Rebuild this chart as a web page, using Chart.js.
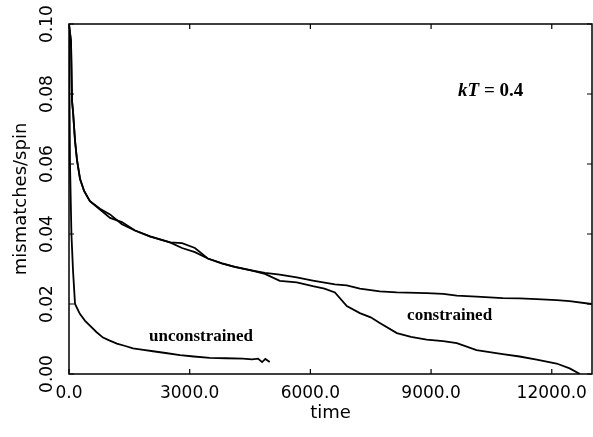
<!DOCTYPE html>
<html>
<head>
<meta charset="utf-8">
<script src="https://cdn.jsdelivr.net/npm/chart.js@4"></script>
<style>
  html, body { margin: 0; padding: 0; background: #fff; }
  #wrap { width: 593px; height: 437px; }
</style>
</head>
<body>
<div id="wrap"><canvas id="mismatchChart"></canvas></div>
<script>
// time axis ticks and mismatch axis ticks
const xTickValues = [0, 3000, 6000, 9000, 12000];
const yTickValues = [0, 0.02, 0.04, 0.06, 0.08, 0.10];

// constrained run that levels off near 0.02
const constrainedATime = [0, 50, 75, 100, 150, 200, 275, 375, 520, 770, 1020, 1315, 1640, 2010, 2510, 2810, 3130, 3450, 3800, 4120, 4500, 4870, 5240, 5660, 6060, 6610, 6905, 7230, 7725, 8150, 8890, 9300, 9640, 10130, 10780, 11200, 11625, 12120, 12445, 12990];
const constrainedAValues = [0.100, 0.095, 0.078, 0.075, 0.0666, 0.061, 0.0557, 0.0523, 0.0494, 0.0472, 0.0456, 0.0428, 0.041, 0.0393, 0.0376, 0.0374, 0.0360, 0.0330, 0.0316, 0.0306, 0.0297, 0.0289, 0.0284, 0.0276, 0.0267, 0.0256, 0.0253, 0.0244, 0.0236, 0.0233, 0.0231, 0.0229, 0.0224, 0.0221, 0.0217, 0.0216, 0.0214, 0.0211, 0.0208, 0.0200];

// constrained run that drops to zero
const constrainedBTime = [0, 50, 75, 100, 150, 200, 275, 375, 520, 770, 1020, 1315, 1640, 2010, 2510, 2810, 3130, 3450, 3800, 4120, 4500, 4870, 5240, 5660, 6060, 6350, 6610, 6905, 7230, 7500, 7725, 8150, 8500, 8890, 9300, 9640, 10130, 10780, 11200, 11625, 12120, 12445, 12700];
const constrainedBValues = [0.100, 0.095, 0.078, 0.075, 0.0666, 0.061, 0.0557, 0.0523, 0.0494, 0.0470, 0.0446, 0.0434, 0.041, 0.0393, 0.0376, 0.0360, 0.0348, 0.0330, 0.0316, 0.0306, 0.0297, 0.0286, 0.0266, 0.0262, 0.0251, 0.0244, 0.0233, 0.0194, 0.0174, 0.0162, 0.0146, 0.0117, 0.0106, 0.0098, 0.0094, 0.0088, 0.0068, 0.0057, 0.0050, 0.0041, 0.0030, 0.0016, 0.0];

// unconstrained run
const unconstrainedTime = [0, 25, 60, 100, 150, 270, 400, 520, 680, 845, 1000, 1190, 1400, 1590, 1850, 2090, 2400, 2760, 3100, 3500, 3900, 4320, 4550, 4700, 4800, 4880, 4990];
const unconstrainedValues = [0.100, 0.060, 0.040, 0.0295, 0.0200, 0.0172, 0.0152, 0.0138, 0.0120, 0.0104, 0.0096, 0.0087, 0.0080, 0.0073, 0.0069, 0.0065, 0.0060, 0.0054, 0.0050, 0.0046, 0.0045, 0.0044, 0.0042, 0.0044, 0.0034, 0.0043, 0.0034];

function toPoints(xs, ys) {
    return xs.map((x, i) => ({ x: x, y: ys[i] }));
}

Chart.defaults.font.family = "'DejaVu Sans', sans-serif";
Chart.defaults.color = '#000';

// frame, inward tick marks, rotated y labels and in-plot text
const framePlugin = {
    id: 'frame',
    afterDraw(chart) {
        const ctx = chart.ctx;
        const a = chart.chartArea;
        const xs = chart.scales.x;
        const ys = chart.scales.y;
        ctx.save();
        ctx.strokeStyle = '#000';
        ctx.lineWidth = 1.5;
        ctx.strokeRect(a.left, a.top, a.right - a.left, a.bottom - a.top);

        ctx.lineWidth = 1.2;
        ctx.beginPath();
        xTickValues.forEach(v => {
            const px = xs.getPixelForValue(v);
            ctx.moveTo(px, a.bottom); ctx.lineTo(px, a.bottom - 5);
            ctx.moveTo(px, a.top); ctx.lineTo(px, a.top + 5);
        });
        yTickValues.forEach(v => {
            const py = ys.getPixelForValue(v);
            ctx.moveTo(a.left, py); ctx.lineTo(a.left + 5, py);
            ctx.moveTo(a.right, py); ctx.lineTo(a.right - 5, py);
        });
        ctx.stroke();

        ctx.fillStyle = '#000';
        ctx.font = "17px 'DejaVu Sans'";
        ctx.textAlign = 'center';
        ctx.textBaseline = 'middle';
        yTickValues.forEach(v => {
            const py = ys.getPixelForValue(v);
            ctx.save();
            ctx.translate(48, py);
            ctx.rotate(-Math.PI / 2);
            ctx.fillText(v.toFixed(2), 0, 0);
            ctx.restore();
        });

        ctx.font = "bold 17px 'Liberation Serif'";
        ctx.fillText('unconstrained', xs.getPixelForValue(3280), ys.getPixelForValue(0.0108));
        ctx.fillText('constrained', xs.getPixelForValue(9460), ys.getPixelForValue(0.0166));

        const kx = xs.getPixelForValue(10480);
        const ky = ys.getPixelForValue(0.0808);
        ctx.textAlign = 'left';
        ctx.font = "italic bold 19px 'Liberation Serif'";
        const kw = ctx.measureText('kT').width;
        ctx.font = "bold 19px 'Liberation Serif'";
        const rest = ' = 0.4';
        const total = kw + ctx.measureText(rest).width;
        ctx.font = "italic bold 19px 'Liberation Serif'";
        ctx.fillText('kT', kx - total / 2, ky);
        ctx.font = "bold 19px 'Liberation Serif'";
        ctx.fillText(rest, kx - total / 2 + kw, ky);
        ctx.restore();
    }
};

const lineStyle = {
    borderColor: '#000',
    borderWidth: 1.8,
    pointRadius: 0,
    tension: 0,
    fill: false
};

const ctx = document.getElementById('mismatchChart').getContext('2d');
new Chart(ctx, {
    type: 'line',
    data: {
        datasets: [
            Object.assign({ label: 'constrained (run 1)', data: toPoints(constrainedATime, constrainedAValues) }, lineStyle),
            Object.assign({ label: 'constrained (run 2)', data: toPoints(constrainedBTime, constrainedBValues) }, lineStyle),
            Object.assign({ label: 'unconstrained', data: toPoints(unconstrainedTime, unconstrainedValues) }, lineStyle)
        ]
    },
    options: {
        responsive: true,
        maintainAspectRatio: false,
        animation: false,
        layout: { padding: { top: 24, right: 1, left: 0, bottom: 0 } },
        scales: {
            x: {
                type: 'linear',
                min: 0,
                max: 13000,
                grid: { display: false },
                border: { display: false },
                afterBuildTicks: s => { s.ticks = xTickValues.map(v => ({ value: v })); },
                afterFit: s => { s.height = 63; },
                ticks: {
                    maxRotation: 0,
                    autoSkip: false,
                    padding: 1,
                    font: { size: 17 },
                    color: '#000',
                    callback: v => Number(v).toFixed(1)
                },
                title: {
                    display: true,
                    text: 'time',
                    font: { size: 18 },
                    color: '#000',
                    padding: { top: 0, bottom: 13 }
                }
            },
            y: {
                min: 0,
                max: 0.1,
                grid: { display: false },
                border: { display: false },
                afterBuildTicks: s => { s.ticks = yTickValues.map(v => ({ value: v })); },
                afterFit: s => { s.width = 69; },
                ticks: { display: false },
                title: {
                    display: true,
                    text: 'mismatches/spin',
                    font: { size: 18 },
                    color: '#000',
                    padding: { top: 11, bottom: 0 }
                }
            }
        },
        plugins: {
            legend: { display: false },
            tooltip: { enabled: false }
        }
    },
    plugins: [framePlugin]
});
</script>
</body>
</html>
